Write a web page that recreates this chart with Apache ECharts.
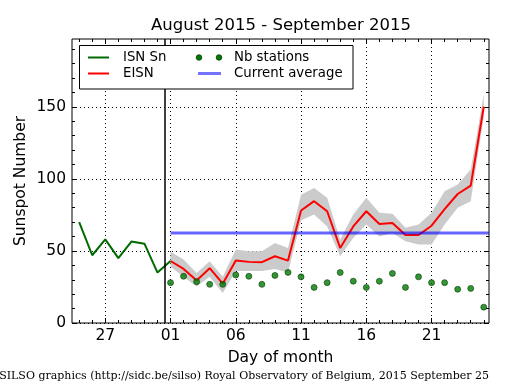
<!DOCTYPE html>
<html>
<head>
<meta charset="utf-8">
<script src="https://cdn.jsdelivr.net/npm/echarts@6/dist/echarts.min.js"></script>
<style>html,body{margin:0;padding:0;background:#fff;}#c{width:515px;height:390px;}</style>
</head>
<body>
<div id="c"></div>
<script>
// ---- data (day offsets relative to 1 September 2015) ----
const isnDays = [-7, -6, -5, -4, -3, -2, -1, 0];
const isnValues = [70, 47, 58, 45, 56.5, 55, 35, 43];

const eisnDays = [0,1,2,3,4,5,6,7,8,9,10,11,12,13,14,15,16,17,18,19,20,21,22,23,24];
const eisnValues = [43, 37.5, 29.5, 38, 27.3, 43.3, 42.4, 42.2, 46.3, 43.3, 78, 84.5, 77.5, 52, 67, 77.5, 68.7, 69.4, 61, 61, 67.5, 79, 89.5, 95.3, 150];
const eisnUpper = [49.5, 44, 34.7, 42.8, 32, 51, 49.7, 49.7, 55.5, 52, 89, 93.7, 86.8, 57.8, 75.2, 86.8, 76.4, 75.7, 66, 68.3, 76.4, 91.4, 96, 106.5, 158.5];
const eisnLower = [39, 32, 25.4, 32, 20.8, 36, 36, 36, 37.5, 35, 71.3, 75.2, 67, 46.3, 59, 68.3, 60, 62.5, 56.7, 54.4, 54.4, 68.3, 80, 84.5, 143.5];
const nbStations = [28, 32.4, 28.7, 26.8, 26.8, 33.3, 32.4, 26.8, 33, 35.1, 32, 24.7, 28, 35, 29, 24.7, 29, 34.4, 24.7, 32, 28, 28, 23.4, 24, 11];
const currentAverage = 62.5;
const monthBoundary = -0.42;

const xMin = -7.55, xMax = 24.4;
const yMin = 0, yMax = 197;
const xTickValues = [-5, 0, 5, 10, 15, 20];
const xTickLabels = ['27', '01', '06', '11', '16', '21'];
const xMinorValues = [-7,-6,-5,-4,-3,-2,-1,0,1,2,3,4,5,6,7,8,9,10,11,12,13,14,15,16,17,18,19,20,21,22,23,24];
const yTickValues = [0, 50, 100, 150];
const yMinorValues = [0,10,20,30,40,50,60,70,80,90,100,110,120,130,140,150,160,170,180,190];

const titleText = 'August 2015 - September 2015';
const xName = 'Day of month';
const yName = 'Sunspot Number';
const footerText = 'SILSO graphics (http://sidc.be/silso) Royal Observatory of Belgium, 2015 September 25';
const legendNames = ['ISN Sn', 'EISN', 'Nb stations', 'Current average'];

// ---- chart ----
const FONT = 'DejaVu Sans';
const chart = echarts.init(document.getElementById('c'), null, {renderer: 'canvas'});
const zip = (xs, ys) => xs.map((x, i) => [x, ys[i]]);
const dotted = {color: '#000', width: 1, type: [1, 3]};

function xAxisDef(pos, values, len, labels, split) {
  return {
    type: 'value', min: xMin, max: xMax, position: pos,
    axisLine: {show: false, onZero: false},
    axisTick: {show: true, inside: true, length: len, customValues: values, lineStyle: {color: '#000', width: 1}},
    axisLabel: labels ? {show: true, customValues: xTickValues, color: '#000', fontSize: 15.5, fontFamily: FONT, margin: 5,
      formatter: v => xTickLabels[xTickValues.indexOf(v)]} : {show: false},
    splitLine: split ? {show: true, lineStyle: dotted} : {show: false},
    minorTick: {show: false}
  };
}
function yAxisDef(pos, values, len, labels, split) {
  return {
    type: 'value', min: yMin, max: yMax, position: pos, offset: 0,
    axisLine: {show: false, onZero: false},
    axisTick: {show: true, inside: true, length: len, customValues: values, lineStyle: {color: '#000', width: 1}},
    axisLabel: labels ? {show: true, customValues: yTickValues, color: '#000', fontSize: 15.5, fontFamily: FONT, margin: 6} : {show: false},
    splitLine: split ? {show: true, lineStyle: dotted} : {show: false},
    minorTick: {show: false}
  };
}

const bandData = eisnDays.map((d, i) => [d, eisnLower[i], eisnUpper[i]]);

const option = {
  animation: false,
  backgroundColor: '#fff',
  grid: {left: 72, right: 26, top: 39, bottom: 67, show: true, borderColor: '#000', borderWidth: 1, backgroundColor: 'transparent', containLabel: false, outerBoundsMode: 'none'},
  xAxis: [
    Object.assign(xAxisDef('bottom', xTickValues, 5, true, true), {
      name: xName, nameLocation: 'middle', nameGap: 27, nameMoveOverlap: false,
      nameTextStyle: {color: '#000', fontSize: 15.5, fontFamily: FONT}
    }),
    xAxisDef('bottom', xMinorValues, 3, false, false),
    xAxisDef('top', xTickValues, 5, false, false),
    xAxisDef('top', xMinorValues, 3, false, false)
  ],
  yAxis: [
    Object.assign(yAxisDef('left', yTickValues, 5, true, true), {
      name: yName, nameLocation: 'middle', nameGap: 43, nameRotate: 90, nameMoveOverlap: false,
      nameTextStyle: {color: '#000', fontSize: 15.5, fontFamily: FONT}
    }),
    yAxisDef('left', yMinorValues, 3, false, false),
    yAxisDef('right', yTickValues, 5, false, false),
    yAxisDef('right', yMinorValues, 3, false, false)
  ],
  series: [
    {
      name: 'band', type: 'custom', xAxisIndex: 0, yAxisIndex: 0, silent: true, z: 2,
      data: bandData,
      encode: {x: 0, y: [1, 2]},
      renderItem: function (params, api) {
        if (params.dataIndex !== 0) return null;
        const top = bandData.map(p => api.coord([p[0], p[2]]));
        const bottom = bandData.map(p => api.coord([p[0], p[1]])).reverse();
        return {type: 'polygon', shape: {points: top.concat(bottom)}, style: {fill: '#cbcbcb', stroke: null}};
      }
    },
    {
      name: legendNames[1], type: 'line', xAxisIndex: 0, yAxisIndex: 0,
      data: zip(eisnDays, eisnValues), symbol: 'none',
      lineStyle: {color: '#ff0000', width: 2}, z: 3
    },
    {
      name: legendNames[0], type: 'line', xAxisIndex: 0, yAxisIndex: 0,
      data: zip(isnDays, isnValues), symbol: 'none',
      lineStyle: {color: '#006a00', width: 2}, z: 3,
      markLine: {
        silent: true, symbol: 'none', label: {show: false},
        lineStyle: {color: '#000', width: 1.5, type: 'solid'},
        data: [{xAxis: monthBoundary}]
      }
    },
    {
      name: legendNames[3], type: 'line', xAxisIndex: 0, yAxisIndex: 0,
      data: [[eisnDays[0], currentAverage], [xMax, currentAverage]], symbol: 'none',
      lineStyle: {color: 'rgba(0,0,255,0.6)', width: 3}, z: 4
    },
    {
      name: legendNames[2], type: 'scatter', xAxisIndex: 0, yAxisIndex: 0,
      data: zip(eisnDays, nbStations), symbol: 'circle', symbolSize: 6,
      itemStyle: {color: '#007a00', borderColor: '#003000', borderWidth: 0.7}, z: 5
    }
  ],
  graphic: [
    {type: 'text', x: 281, y: 26, z: 10, style: {text: titleText, fontSize: 16.5, fontFamily: FONT, fill: '#000', align: 'center', verticalAlign: 'middle'}},
    {type: 'text', x: 489, y: 376, z: 10, style: {text: footerText, fontSize: 11, fontFamily: 'DejaVu Serif', fill: '#000', align: 'right', verticalAlign: 'middle'}},
    {type: 'rect', z: 20, shape: {x: 79.5, y: 45.5, width: 273.5, height: 43.5}, style: {fill: '#fff', stroke: '#000', lineWidth: 1}},
    {type: 'line', z: 21, shape: {x1: 88, y1: 57.5, x2: 109, y2: 57.5}, style: {stroke: '#006a00', lineWidth: 2}},
    {type: 'text', z: 21, x: 123, y: 57.5, style: {text: legendNames[0], fontSize: 13.3, fontFamily: FONT, fill: '#000', align: 'left', verticalAlign: 'middle'}},
    {type: 'line', z: 21, shape: {x1: 88, y1: 73.5, x2: 109, y2: 73.5}, style: {stroke: '#ff0000', lineWidth: 2}},
    {type: 'text', z: 21, x: 123, y: 73.5, style: {text: legendNames[1], fontSize: 13.3, fontFamily: FONT, fill: '#000', align: 'left', verticalAlign: 'middle'}},
    {type: 'circle', z: 21, shape: {cx: 199, cy: 57.5, r: 2.8}, style: {fill: '#007a00', stroke: '#003000', lineWidth: 0.7}},
    {type: 'circle', z: 21, shape: {cx: 219, cy: 57.5, r: 2.8}, style: {fill: '#007a00', stroke: '#003000', lineWidth: 0.7}},
    {type: 'text', z: 21, x: 234, y: 57.5, style: {text: legendNames[2], fontSize: 13.3, fontFamily: FONT, fill: '#000', align: 'left', verticalAlign: 'middle'}},
    {type: 'line', z: 21, shape: {x1: 198, y1: 73.5, x2: 221, y2: 73.5}, style: {stroke: 'rgba(0,0,255,0.55)', lineWidth: 3}},
    {type: 'text', z: 21, x: 234, y: 73.5, style: {text: legendNames[3], fontSize: 13.3, fontFamily: FONT, fill: '#000', align: 'left', verticalAlign: 'middle'}}
  ]
};
chart.setOption(option);
</script>
</body>
</html>
